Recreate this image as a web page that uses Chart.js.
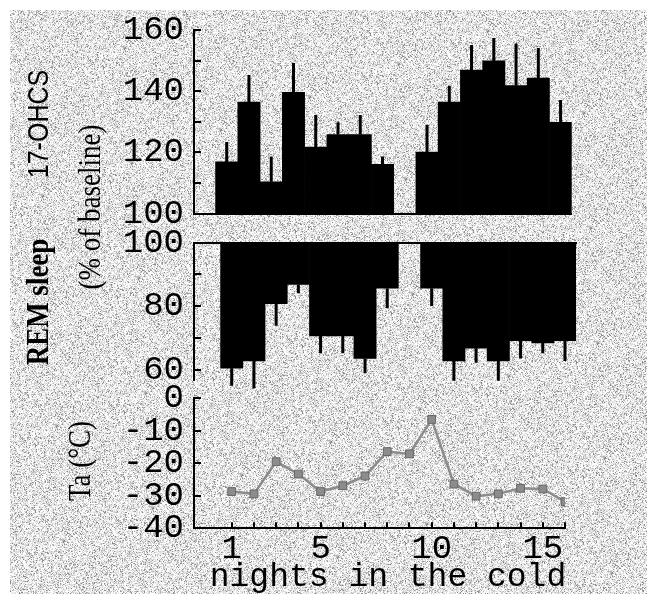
<!DOCTYPE html>
<html>
<head>
<meta charset="utf-8">
<script src="https://cdn.jsdelivr.net/npm/chart.js@4.4.1/dist/chart.umd.min.js"></script>
<style>
  body { margin: 0; background: #fff; }
  #wrap { position: relative; width: 647px; height: 594px; overflow: hidden; background: #fff; }
  #wrap canvas { position: absolute; left: 0; top: 0; }
  .ytitle { position: absolute; white-space: nowrap; line-height: 1; color: #000; }
</style>
</head>
<body>
<div id="wrap">
  <canvas id="bg" width="647" height="594"></canvas>
  <canvas id="chart-ohcs" width="647" height="594"></canvas>
  <canvas id="chart-rem" width="647" height="594"></canvas>
  <canvas id="chart-ta" width="647" height="594"></canvas>

  <div class="ytitle" style="left:38px;top:124px;font:25px 'Liberation Sans';transform:translate(-50%,-50%) rotate(-90deg) scale(1,1.2)">17-OHCS</div>
  <div class="ytitle" style="left:90px;top:207px;font:27px 'Liberation Serif';transform:translate(-50%,-50%) rotate(-90deg) scale(1,1.2)">(% of baseline)</div>
  <div class="ytitle" style="left:38px;top:302px;font:bold 27px 'Liberation Serif';transform:translate(-50%,-50%) rotate(-90deg) scale(1,1.2)">REM sleep</div>
  <div class="ytitle" style="left:80px;top:461px;font:27px 'Liberation Serif';transform:translate(-50%,-50%) rotate(-90deg) scale(1,1.15)">Ta (°C)</div>
  <div class="ytitle" style="left:388px;top:577px;font:33px 'Liberation Mono';transform:translate(-50%,-50%)">nights in the cold</div>
</div>

<script>
// nights 1..16 in the cold
var nights = [1, 2, 3, 4, 5, 6, 7, 8, 9, 10, 11, 12, 13, 14, 15, 16];

// 17-OHCS, % of baseline (night 9 missing)
var ohcs    = [116.9, 136.5, 110.4, 139.7, 121.8, 125.9, 125.9, 116.1, null, 120.1, 136.5, 147.0, 150.0, 141.9, 144.4, 129.9];
var ohcsErr = [123.4, 145.4, 118.7, 149.3, 132.3, 129.9, 132.3, 118.7, null, 129.1, 141.9, 155.2, 157.5, 155.7, 154.2, 137.2];

// REM sleep, % of baseline
var rem    = [60.4, 62.7, 80.7, 86.8, 70.6, 70.6, 63.5, 85.6, null, 85.6, 62.7, 66.7, 62.7, 69.1, 68.4, 69.1];
var remErr = [54.9, 54.1, 73.8, 84.0, 65.1, 65.1, 58.8, 79.3, null, 80.0, 56.5, 62.1, 56.5, 63.5, 65.1, 62.7];

// ambient temperature, deg C
var ta = [-28.7, -29.4, -19.5, -23.3, -28.7, -26.9, -23.9, -16.4, -17.1, -6.5, -26.4, -30.1, -29.4, -27.7, -27.9, -31.8];

// tick marks and labelled ticks
var ohcsTicks = [100, 110, 120, 130, 140, 150, 160];
var ohcsLabels = [100, 120, 140, 160];
var remTicks = [60, 70, 80, 90, 100];
var remLabels = [60, 80, 100];
var taTicks = [-40, -30, -20, -10, 0];
var nightLabels = [1, 5, 10, 15];

var monoFont = { family: "'Liberation Mono', monospace", size: 34 };

// grainy grey paper
(function () {
  var c = document.getElementById('bg');
  var ctx = c.getContext('2d');
  ctx.fillStyle = '#fff';
  ctx.fillRect(0, 0, c.width, c.height);
  var img = ctx.getImageData(10, 10, c.width - 10, c.height - 10);
  var d = img.data;
  var seed = 12345;
  function rnd() { seed = (seed * 1103515245 + 12345) & 0x7fffffff; return seed / 0x7fffffff; }
  for (var i = 0; i < d.length; i += 4) {
    var r = rnd(), v;
    if (r < 0.40) v = 252;
    else if (r < 0.76) v = 222;
    else if (r < 0.93) v = 184;
    else v = 140;
    d[i] = d[i + 1] = d[i + 2] = v;
    d[i + 3] = 255;
  }
  ctx.putImageData(img, 10, 10);
})();

function toPoints(values) {
  return nights.map(function (n, i) { return { x: n, y: values[i] }; });
}

function fixedTicks(list) {
  return function (scale) {
    scale.ticks = list.map(function (v) { return { value: v }; });
  };
}

// short inward ticks on the y axis (and x axis if asked)
function innerTicks(yList, xList) {
  return {
    id: 'innerTicks',
    afterDraw: function (chart) {
      var ctx = chart.ctx, area = chart.chartArea;
      var ys = chart.scales.y, xs = chart.scales.x;
      ctx.save();
      ctx.strokeStyle = '#000';
      ctx.lineWidth = 2;
      ctx.beginPath();
      yList.forEach(function (v) {
        var py = Math.round(ys.getPixelForValue(v));
        ctx.moveTo(area.left, py);
        ctx.lineTo(area.left + 7, py);
      });
      (xList || []).forEach(function (v) {
        var px = Math.round(xs.getPixelForValue(v));
        ctx.moveTo(px, area.bottom);
        ctx.lineTo(px, area.bottom - 6);
      });
      ctx.stroke();
      ctx.restore();
    }
  };
}

// one-sided error bars from the bar end out to the error value
function errorBars(values, errs) {
  return {
    id: 'errorBars',
    afterDatasetsDraw: function (chart) {
      var ctx = chart.ctx, xs = chart.scales.x, ys = chart.scales.y;
      ctx.save();
      ctx.strokeStyle = '#000';
      ctx.lineWidth = 3;
      ctx.beginPath();
      nights.forEach(function (n, i) {
        if (values[i] == null || errs[i] == null) return;
        var px = xs.getPixelForValue(n);
        ctx.moveTo(px, ys.getPixelForValue(values[i]));
        ctx.lineTo(px, ys.getPixelForValue(errs[i]));
      });
      ctx.stroke();
      ctx.restore();
    }
  };
}

function yAxis(min, max, tickList, labelList) {
  return {
    type: 'linear',
    min: min,
    max: max,
    afterBuildTicks: fixedTicks(tickList),
    afterFit: function (s) { s.width = 194; },
    grid: { display: false, drawTicks: false },
    border: { display: true, color: '#000', width: 2 },
    ticks: {
      font: monoFont,
      color: '#000',
      padding: 10,
      autoSkip: false,
      callback: function (v) { return labelList.indexOf(v) >= 0 ? String(v) : ''; }
    }
  };
}

function hiddenX(min, max, position) {
  return {
    type: 'linear',
    position: position,
    offset: false,
    min: min,
    max: max,
    afterFit: function (s) { s.height = 0; },
    grid: { display: false, drawTicks: false, offset: false },
    border: { display: true, color: '#000', width: 2 },
    ticks: { display: false }
  };
}

Chart.defaults.animation = false;
Chart.defaults.responsive = false;
Chart.defaults.plugins.legend.display = false;
Chart.defaults.plugins.tooltip.enabled = false;

// 17-OHCS bars
new Chart(document.getElementById('chart-ohcs'), {
  type: 'bar',
  data: {
    datasets: [{
      data: toPoints(ohcs),
      backgroundColor: '#000',
      borderWidth: 0,
      categoryPercentage: 1,
      barPercentage: 1
    }]
  },
  options: {
    layout: { padding: { left: 0, top: 29.5, right: 75.3, bottom: 380.5 } },
    scales: {
      x: hiddenX(-0.47, 16.5, 'bottom'),
      y: yAxis(100, 160, ohcsTicks, ohcsLabels)
    }
  },
  plugins: [errorBars(ohcs, ohcsErr), innerTicks(ohcsTicks)]
});

// REM sleep bars, hanging down from 100 %
new Chart(document.getElementById('chart-rem'), {
  type: 'bar',
  data: {
    datasets: [{
      data: toPoints(rem),
      base: 100,
      backgroundColor: '#000',
      borderWidth: 0,
      categoryPercentage: 1,
      barPercentage: 1
    }]
  },
  options: {
    layout: { padding: { left: 0, top: 242.5, right: 70.9, bottom: 214 } },
    scales: {
      x: hiddenX(-0.697, 16.5, 'top'),
      y: yAxis(56.7, 100, remTicks, remLabels)
    }
  },
  plugins: [errorBars(rem, remErr), innerTicks(remTicks)]
});

// ambient temperature line
new Chart(document.getElementById('chart-ta'), {
  type: 'line',
  data: {
    datasets: [{
      data: toPoints(ta),
      borderColor: '#8c8c8c',
      borderWidth: 2.5,
      pointStyle: 'rect',
      pointRadius: 5.5,
      pointBackgroundColor: '#8c8c8c',
      pointBorderColor: '#666',
      pointBorderWidth: 1,
      tension: 0
    }]
  },
  options: {
    layout: { padding: { left: 0, top: 398.3, right: 82, bottom: 35.7 } },
    scales: {
      x: {
        type: 'linear',
        min: -0.697,
        max: 16,
        afterBuildTicks: fixedTicks(nightLabels),
        afterFit: function (s) { s.height = 30; },
        grid: { display: false, drawTicks: false },
        border: { display: true, color: '#000', width: 2 },
        ticks: { font: monoFont, color: '#000', padding: 0, maxRotation: 0, autoSkip: false }
      },
      y: yAxis(-40, 0, taTicks, taTicks)
    }
  },
  plugins: [innerTicks(taTicks, nights)]
});
</script>
</body>
</html>
